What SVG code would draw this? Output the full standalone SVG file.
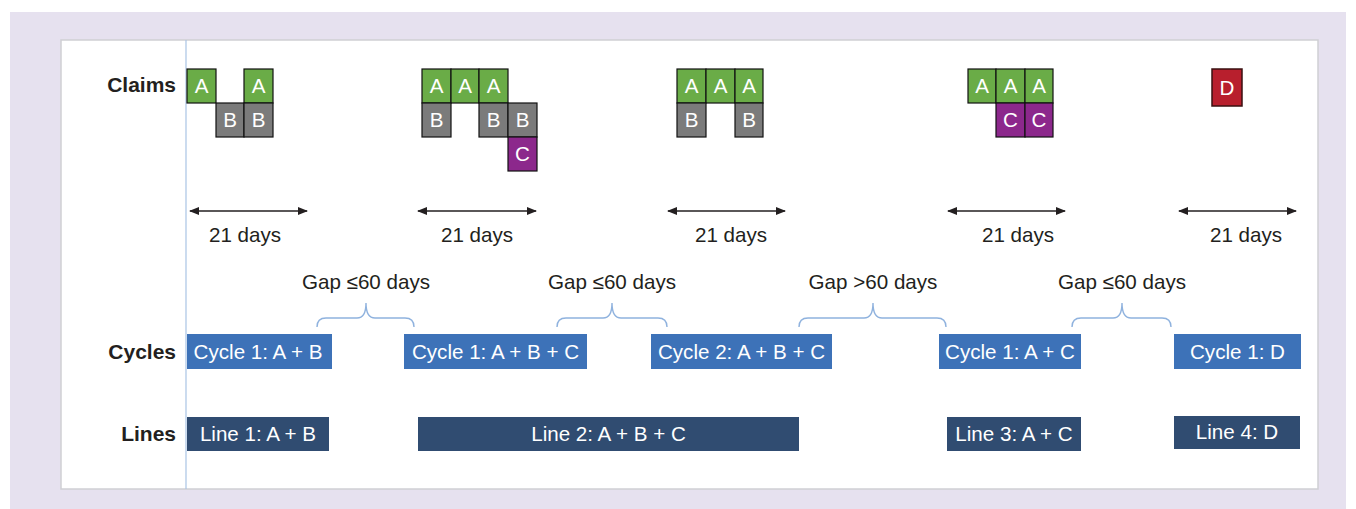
<svg xmlns="http://www.w3.org/2000/svg" width="1356" height="509" viewBox="0 0 1356 509">
<defs>
<style>
text{font-family:"Liberation Sans",Arial,sans-serif;font-size:20.6px}
.lbl{font-weight:bold;text-anchor:end;fill:#231f20;font-size:21px}
.dk{fill:#231f20;text-anchor:middle}
.wt{fill:#fff;text-anchor:middle}
.ga{fill:#6aac47;stroke:#111;stroke-width:1.2}
.gb{fill:#7b7b7b;stroke:#111;stroke-width:1.2}
.gc{fill:#8c288c;stroke:#111;stroke-width:1.2}
.gd{fill:#b81f2d;stroke:#3a1010;stroke-width:1.5}
.cy{fill:#3d72b8}
.ln{fill:#304c71}
.arr{stroke:#231f20;stroke-width:1.3;fill:none;marker-start:url(#ah);marker-end:url(#ah)}
.br{stroke:#8fb2de;stroke-width:1.4;fill:none}
</style>
<marker id="ah" viewBox="0 0 10 8" refX="9" refY="4" markerWidth="10" markerHeight="8" markerUnits="userSpaceOnUse" orient="auto-start-reverse">
<path d="M0,0 L10,4 L0,8 Z" fill="#231f20"/>
</marker>
</defs>
<rect x="10" y="12" width="1336" height="497" fill="#e6e1ef"/>
<rect x="61" y="40" width="1257" height="449" fill="#fff" stroke="#cfcfd4" stroke-width="1.5"/>
<line x1="186" y1="40" x2="186" y2="489" stroke="#a9c4e4" stroke-width="1.2"/>
<g id="row-labels">
<text class="lbl" x="176" y="92">Claims</text>
<text class="lbl" x="176" y="359">Cycles</text>
<text class="lbl" x="176" y="441">Lines</text>
</g>
<g id="claims-1">
<rect class="ga" x="187" y="69" width="29" height="34"/><text class="wt" x="201.5" y="93">A</text>
<rect class="ga" x="244" y="69" width="29" height="34"/><text class="wt" x="258.5" y="93">A</text>
<rect class="gb" x="216" y="103" width="28" height="34"/><text class="wt" x="230" y="127">B</text>
<rect class="gb" x="244" y="103" width="29" height="34"/><text class="wt" x="258.5" y="127">B</text>
</g>
<g id="claims-2">
<rect class="ga" x="422" y="69" width="29" height="34"/><text class="wt" x="436.5" y="93">A</text>
<rect class="ga" x="451" y="69" width="28" height="34"/><text class="wt" x="465" y="93">A</text>
<rect class="ga" x="479" y="69" width="29" height="34"/><text class="wt" x="493.5" y="93">A</text>
<rect class="gb" x="422" y="103" width="29" height="34"/><text class="wt" x="436.5" y="127">B</text>
<rect class="gb" x="479" y="103" width="29" height="34"/><text class="wt" x="493.5" y="127">B</text>
<rect class="gb" x="508" y="103" width="29" height="34"/><text class="wt" x="522.5" y="127">B</text>
<rect class="gc" x="508" y="137" width="29" height="34"/><text class="wt" x="522.5" y="161">C</text>
</g>
<g id="claims-3">
<rect class="ga" x="677" y="69" width="29" height="34"/><text class="wt" x="691.5" y="93">A</text>
<rect class="ga" x="706" y="69" width="29" height="34"/><text class="wt" x="720.5" y="93">A</text>
<rect class="ga" x="735" y="69" width="28" height="34"/><text class="wt" x="749" y="93">A</text>
<rect class="gb" x="677" y="103" width="29" height="34"/><text class="wt" x="691.5" y="127">B</text>
<rect class="gb" x="735" y="103" width="28" height="34"/><text class="wt" x="749" y="127">B</text>
</g>
<g id="claims-4">
<rect class="ga" x="968" y="69" width="28" height="34"/><text class="wt" x="982" y="93">A</text>
<rect class="ga" x="996" y="69" width="29" height="34"/><text class="wt" x="1010.5" y="93">A</text>
<rect class="ga" x="1025" y="69" width="28" height="34"/><text class="wt" x="1039" y="93">A</text>
<rect class="gc" x="996" y="103" width="29" height="34"/><text class="wt" x="1010.5" y="127">C</text>
<rect class="gc" x="1025" y="103" width="28" height="34"/><text class="wt" x="1039" y="127">C</text>
</g>
<g id="claims-5">
<rect class="gd" x="1212" y="69" width="30" height="37"/><text class="wt" x="1227" y="95">D</text>
</g>
<g id="connectors">
<line class="arr" x1="190" y1="211" x2="307" y2="211"/>
<line class="arr" x1="418" y1="211" x2="536" y2="211"/>
<line class="arr" x1="668" y1="211" x2="785" y2="211"/>
<line class="arr" x1="948" y1="211" x2="1065" y2="211"/>
<line class="arr" x1="1179" y1="211" x2="1296" y2="211"/>
<path class="br" d="M317,327 Q317,318 326,318 L357,318 Q366,318 366,303 Q366,318 375,318 L405,318 Q414,318 414,327"/>
<path class="br" d="M557,327 Q557,318 566,318 L603,318 Q612,318 612,303 Q612,318 621,318 L658,318 Q667,318 667,327"/>
<path class="br" d="M799,327 Q799,318 808,318 L864,318 Q873,318 873,303 Q873,318 882,318 L937,318 Q946,318 946,327"/>
<path class="br" d="M1072,327 Q1072,318 1081,318 L1113,318 Q1122,318 1122,303 Q1122,318 1131,318 L1162,318 Q1171,318 1171,327"/>
</g>
<g id="durations">
<text class="dk" x="245" y="242">21 days</text>
<text class="dk" x="477" y="242">21 days</text>
<text class="dk" x="731" y="242">21 days</text>
<text class="dk" x="1018" y="242">21 days</text>
<text class="dk" x="1246" y="242">21 days</text>
</g>
<g id="gaps">
<text class="dk" x="366" y="289">Gap ≤60 days</text>
<text class="dk" x="612" y="289">Gap ≤60 days</text>
<text class="dk" x="873" y="289">Gap &gt;60 days</text>
<text class="dk" x="1122" y="289">Gap ≤60 days</text>
</g>
<g id="cycle-1"><rect class="cy" x="187" y="334" width="145" height="35"/><text class="wt" x="258" y="359">Cycle 1: A + B</text></g>
<g id="cycle-2"><rect class="cy" x="404" y="334" width="183" height="35"/><text class="wt" x="495.5" y="359">Cycle 1: A + B + C</text></g>
<g id="cycle-3"><rect class="cy" x="651" y="334" width="181" height="35"/><text class="wt" x="741.5" y="359">Cycle 2: A + B + C</text></g>
<g id="cycle-4"><rect class="cy" x="939" y="334" width="142" height="35"/><text class="wt" x="1010" y="359">Cycle 1: A + C</text></g>
<g id="cycle-5"><rect class="cy" x="1174" y="334" width="127" height="35"/><text class="wt" x="1237.5" y="359">Cycle 1: D</text></g>
<g id="line-1"><rect class="ln" x="187" y="417" width="142" height="34"/><text class="wt" x="258" y="441">Line 1: A + B</text></g>
<g id="line-2"><rect class="ln" x="418" y="417" width="381" height="34"/><text class="wt" x="608.5" y="441">Line 2: A + B + C</text></g>
<g id="line-3"><rect class="ln" x="947" y="417" width="134" height="34"/><text class="wt" x="1014" y="441">Line 3: A + C</text></g>
<g id="line-4"><rect class="ln" x="1174" y="416" width="126" height="33"/><text class="wt" x="1237" y="439">Line 4: D</text></g>
</svg>
